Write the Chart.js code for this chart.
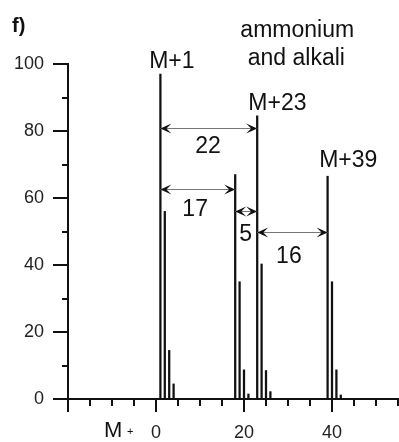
<!DOCTYPE html>
<html>
<head>
<meta charset="utf-8">
<script src="https://cdn.jsdelivr.net/npm/chart.js@4.4.0/dist/chart.umd.min.js"></script>
<style>
  html, body { margin: 0; padding: 0; background: #fff; }
</style>
</head>
<body>
<canvas id="msChart" width="399" height="442"></canvas>
<script>
// peak positions (mass shift from M) and relative intensity (%)
const peakMass = [1, 2, 3, 4, 18, 19, 20, 21, 23, 24, 25, 26, 39, 40, 41, 42];
const peakIntensity = [97, 56, 14.5, 4.5, 67, 35, 8.7, 1.5, 84.5, 40.3, 8.5, 2.2, 66.5, 35, 8.7, 1.2];

// tick labels shown
const xTickLabels = [0, 20, 40];
const yTickLabels = [0, 20, 40, 60, 80, 100];

// mass differences marked with double arrows
const spanFrom = [1, 1, 18, 23];
const spanTo = [23, 18, 23, 39];
const spanLevel = [81, 62.7, 56, 50];
const spanLabels = ['22', '17', '5', '16'];

// adduct names
const adductLabels = ['M+1', 'M+23', 'M+39'];
const headerLines = ['ammonium', 'and alkali'];

const FONT = "'Liberation Sans', Arial, Helvetica, sans-serif";
const INK = '#111';

function arrowHead(ctx, tipX, y, dir) {
    // dir -1 = pointing left, +1 = pointing right
    const L = 11, W = 5;
    ctx.beginPath();
    ctx.moveTo(tipX, y);
    ctx.lineTo(tipX - dir * L, y - W);
    ctx.lineTo(tipX - dir * L * 0.55, y);
    ctx.lineTo(tipX - dir * L, y + W);
    ctx.closePath();
    ctx.fill();
}

const annotations = {
    id: 'annotations',
    afterDraw(chart) {
        const { ctx, chartArea, scales: { x, y } } = chart;
        ctx.save();

        // tick marks: long on labelled values, short in between
        ctx.strokeStyle = INK;
        ctx.lineWidth = 2;
        for (let v = 0; v <= 100; v += 10) {
            const py = Math.round(y.getPixelForValue(v));
            const len = v % 20 === 0 ? 15 : 6;
            ctx.beginPath();
            ctx.moveTo(chartArea.left - len, py);
            ctx.lineTo(chartArea.left, py);
            ctx.stroke();
        }
        for (let v = -20; v <= 55; v += 5) {
            const px = Math.round(x.getPixelForValue(v));
            const len = v % 20 === 0 ? 13 : 7;
            ctx.beginPath();
            ctx.moveTo(px, chartArea.bottom);
            ctx.lineTo(px, chartArea.bottom + len);
            ctx.stroke();
        }

        // double arrows
        spanFrom.forEach((m, i) => {
            const x1 = x.getPixelForValue(m);
            const x2 = x.getPixelForValue(spanTo[i]);
            const py = Math.round(y.getPixelForValue(spanLevel[i])) + 0.5;
            ctx.strokeStyle = '#777';
            ctx.lineWidth = 1;
            ctx.beginPath();
            ctx.moveTo(x1, py);
            ctx.lineTo(x2, py);
            ctx.stroke();
            ctx.fillStyle = INK;
            arrowHead(ctx, x1, py, -1);
            arrowHead(ctx, x2, py, 1);
        });

        // texts placed in data units
        ctx.fillStyle = INK;
        ctx.textAlign = 'center';
        ctx.textBaseline = 'alphabetic';
        ctx.font = `23px ${FONT}`;
        const put = (t, vx, vy) => ctx.fillText(t, x.getPixelForValue(vx), y.getPixelForValue(vy));
        put(adductLabels[0], 3.6, 98.8);
        put(adductLabels[1], 27.6, 86.3);
        put(adductLabels[2], 43.7, 69.3);
        put(headerLines[0], 32.1, 108);
        put(headerLines[1], 31.9, 99.7);
        put(spanLabels[0], 11.8, 73.5);
        put(spanLabels[1], 8.9, 54.5);
        put(spanLabels[2], 20.4, 47.2);
        put(spanLabels[3], 30.2, 40.7);

        // panel letter and axis name
        ctx.textAlign = 'left';
        ctx.font = `bold 20px ${FONT}`;
        ctx.fillText('f)', 12, 32);
        ctx.font = `22px ${FONT}`;
        ctx.fillText('M', 104, 437);
        ctx.font = `11px ${FONT}`;
        ctx.fillText('+', 127, 435);

        ctx.restore();
    }
};

new Chart(document.getElementById('msChart').getContext('2d'), {
    type: 'bar',
    data: {
        datasets: [{
            label: 'Intensity',
            data: peakMass.map((m, i) => ({ x: m, y: peakIntensity[i] })),
            backgroundColor: INK,
            barThickness: 1.6
        }]
    },
    options: {
        responsive: false,
        devicePixelRatio: 1,
        animation: false,
        layout: { padding: { top: 64, right: 1, left: 0, bottom: 0 } },
        plugins: {
            legend: { display: false },
            tooltip: { enabled: false }
        },
        scales: {
            x: {
                type: 'linear',
                min: -20,
                max: 55,
                offset: false,
                afterFit: s => { s.height = 43; },
                // tick marks are drawn by the plugin; tickLength only spaces the labels
                grid: { display: false, drawTicks: true, tickLength: 23, offset: false },
                border: { display: true, color: INK, width: 2 },
                ticks: {
                    stepSize: 5,
                    autoSkip: false,
                    maxRotation: 0,
                    padding: 0,
                    color: '#222',
                    font: { family: FONT, size: 18 },
                    callback: v => xTickLabels.includes(v) ? String(v) : ''
                }
            },
            y: {
                min: 0,
                max: 100,
                afterFit: s => { s.width = 68; },
                grid: { display: false, drawTicks: true, tickLength: 24 },
                border: { display: true, color: INK, width: 2 },
                ticks: {
                    stepSize: 10,
                    autoSkip: false,
                    padding: 0,
                    color: '#222',
                    font: { family: FONT, size: 18 },
                    callback: v => yTickLabels.includes(v) ? String(v) : ''
                }
            }
        }
    },
    plugins: [annotations]
});
</script>
</body>
</html>
